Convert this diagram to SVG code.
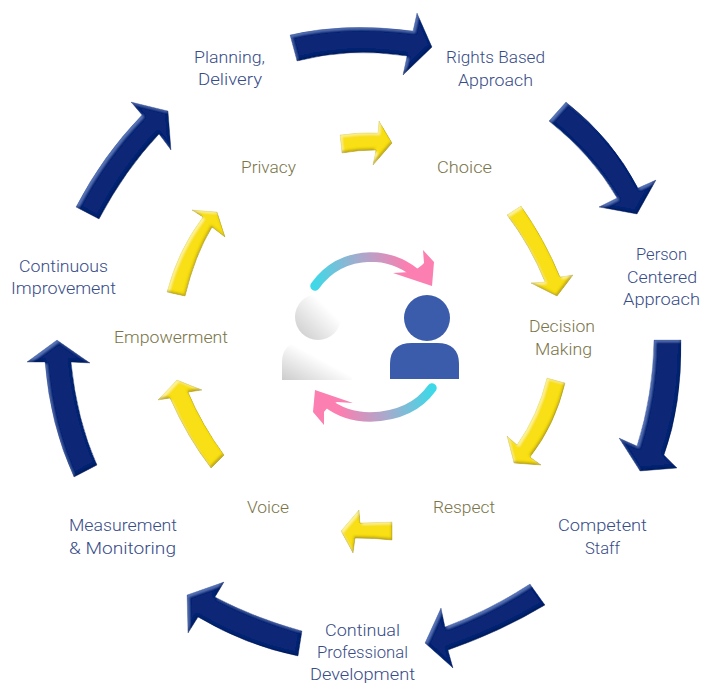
<svg xmlns="http://www.w3.org/2000/svg" width="702" height="684" viewBox="0 0 702 684">
<style>
text{font-family:Roboto,"Open Sans","Liberation Sans",sans-serif;font-size:17px;font-weight:300;text-anchor:middle}
.outer text{fill:#384c88}
.inner text{fill:#7a7448}
.navy{fill:#0f2874;stroke:#0c2060;stroke-width:.6;filter:url(#bevelN)}
.gold{fill:#f8df18;stroke:#a8981a;stroke-width:.7;filter:url(#bevelG)}
.soft{filter:url(#soft)}
</style>
<defs>
<linearGradient id="arcTop" gradientUnits="userSpaceOnUse" x1="314" y1="287" x2="425" y2="270"><stop offset="0" stop-color="#3dd9e8"/><stop offset=".45" stop-color="#a9a9cc"/><stop offset=".85" stop-color="#fb7fb0"/></linearGradient>
<linearGradient id="arcBot" gradientUnits="userSpaceOnUse" x1="432" y1="388" x2="322" y2="405"><stop offset="0" stop-color="#3dd9e8"/><stop offset=".45" stop-color="#a9a9cc"/><stop offset=".85" stop-color="#fb7fb0"/></linearGradient>
<linearGradient id="headW" x1="1" y1="0" x2="0" y2="1"><stop offset=".3" stop-color="#ffffff"/><stop offset="1" stop-color="#c8c8c8"/></linearGradient>
<linearGradient id="bodyW" x1="1" y1="0" x2="0" y2="1"><stop offset=".45" stop-color="#ffffff"/><stop offset="1" stop-color="#cccccc"/></linearGradient>
<filter id="bevelN" x="-10%" y="-10%" width="120%" height="120%">
<feOffset in="SourceAlpha" dx="1.5" dy="2" result="o1"/>
<feComposite in="SourceAlpha" in2="o1" operator="out" result="r1"/>
<feGaussianBlur in="r1" stdDeviation=".8" result="r1b"/>
<feFlood flood-color="#5f7ec4"/><feComposite in2="r1b" operator="in" result="hl"/>
<feOffset in="SourceAlpha" dx="-1.5" dy="-2" result="o2"/>
<feComposite in="SourceAlpha" in2="o2" operator="out" result="r2"/>
<feGaussianBlur in="r2" stdDeviation=".8" result="r2b"/>
<feFlood flood-color="#071a55"/><feComposite in2="r2b" operator="in" result="sh"/>
<feMerge result="m"><feMergeNode in="SourceGraphic"/><feMergeNode in="hl"/><feMergeNode in="sh"/></feMerge>
<feComposite in="m" in2="SourceAlpha" operator="in"/>
<feGaussianBlur stdDeviation=".35"/>
</filter>
<filter id="bevelG" x="-10%" y="-10%" width="120%" height="120%">
<feOffset in="SourceAlpha" dx="1.5" dy="2" result="o1"/>
<feComposite in="SourceAlpha" in2="o1" operator="out" result="r1"/>
<feGaussianBlur in="r1" stdDeviation=".8" result="r1b"/>
<feFlood flood-color="#fff7a0"/><feComposite in2="r1b" operator="in" result="hl"/>
<feOffset in="SourceAlpha" dx="-1.5" dy="-2" result="o2"/>
<feComposite in="SourceAlpha" in2="o2" operator="out" result="r2"/>
<feGaussianBlur in="r2" stdDeviation=".8" result="r2b"/>
<feFlood flood-color="#a8921a"/><feComposite in2="r2b" operator="in" result="sh"/>
<feMerge result="m"><feMergeNode in="SourceGraphic"/><feMergeNode in="hl"/><feMergeNode in="sh"/></feMerge>
<feComposite in="m" in2="SourceAlpha" operator="in"/>
<feGaussianBlur stdDeviation=".35"/>
</filter>
<filter id="soft" x="-5%" y="-5%" width="110%" height="110%"><feGaussianBlur stdDeviation=".4"/></filter>
</defs>

<g id="connectors">
<path class="navy" d="M290,35 Q345,22 413,31 L417,13 L432,47 L403,75 L407,56 Q350,47 297,61 Z"/>
<path class="navy" d="M566,102 Q612,138 638,188 L656,180 L637,214 L599,207 L617,198 Q592,155 549,121 Z"/>
<path class="navy" d="M654,340 L681,340 Q682,405 664,455 L677,468 L640,471 L619,438 L637,446 Q653,395 654,340 Z"/>
<path class="navy" d="M530,584 Q490,610 445,627 L441,608 L425,643 L453,668 L448,650 Q500,632 545,605 Z"/>
<path class="navy" d="M302,631 Q255,618 215,597 L224,582 L187,595 L188,633 L198,617 Q245,645 298,656 Z"/>
<path class="navy" d="M74,477 Q50,425 45,362 L27,362 L57,340 L90,363 L71,362 Q77,420 97,465 Z"/>
<path class="navy" d="M76,207 Q103,155 142,115 L131,102 L168,111 L171,150 L159,134 Q125,170 99,219 Z"/>
<path class="gold" d="M340,135 Q360,132 378,133 L379,121 L392,143 L373,165 L376,150 Q358,150 342,153 Z"/>
<path class="gold" d="M521,206 Q545,240 560,277 L573,275 L557,296 L531,283 L545,282 Q530,245 507,215 Z"/>
<path class="gold" d="M547,378 Q538,415 517,445 L507,436 L514,463 L541,465 L530,457 Q555,425 565,383 Z"/>
<path class="gold" d="M392,522 L360,523 L359,510 L341,531 L353,553 L355,538 Q375,538 392,540 Z"/>
<path class="gold" d="M224,455 Q202,425 188,392 L202,390 L177,380 L158,400 L170,398 Q187,437 211,468 Z"/>
<path class="gold" d="M167,292 Q178,250 203,217 L192,210 L217,212 L225,237 L212,227 Q195,255 185,296 Z"/>
</g>

<g id="center-icon" class="soft">
<g id="person-white"><circle cx="318" cy="317" r="23" fill="url(#headW)"/><path d="M282,380 V362 Q282,342 304,342 H332 Q352,342 352,362 V380 Z" fill="url(#bodyW)"/></g>
<g id="person-blue"><circle cx="427" cy="318" r="23" fill="#3b5cab"/><path d="M390,379 V364 Q390,343 412,343 H437 Q459,343 459,364 V379 Z" fill="#3b5cab"/></g>
<g id="cycle-top"><path d="M315,286 Q335,258 370,257 Q395,257 414,272" fill="none" stroke="url(#arcTop)" stroke-width="9.5" stroke-linecap="round"/><path d="M423,250 L434,262 L432,286 L393,273 L410,272 Q420,268 424,263 Z" fill="#fb7fb0"/></g>
<g id="cycle-bottom"><path d="M432,388 Q412,416 370,417 Q345,417 326,402" fill="none" stroke="url(#arcBot)" stroke-width="9.5" stroke-linecap="round"/><path d="M315,390 L353,403 L337,402 Q328,406 324,412 L324,425 L313,412 Z" fill="#fb7fb0"/></g>
</g>

<g class="outer">
<g id="n-planning"><text x="229.500" y="63" textLength="71" lengthAdjust="spacingAndGlyphs">Planning,</text><text x="230" y="85" textLength="64" lengthAdjust="spacingAndGlyphs">Delivery</text></g>
<g id="n-rights"><text x="495.500" y="63" textLength="99" lengthAdjust="spacingAndGlyphs">Rights Based</text><text x="495.500" y="86" textLength="75" lengthAdjust="spacingAndGlyphs">Approach</text></g>
<g id="n-person"><text x="661.500" y="260" textLength="51" lengthAdjust="spacingAndGlyphs">Person</text><text x="662" y="283" textLength="70" lengthAdjust="spacingAndGlyphs">Centered</text><text x="661.500" y="305" textLength="77" lengthAdjust="spacingAndGlyphs">Approach</text></g>
<g id="n-staff"><text x="602.500" y="531" textLength="89" lengthAdjust="spacingAndGlyphs">Competent</text><text x="602.500" y="554" textLength="35" lengthAdjust="spacingAndGlyphs">Staff</text></g>
<g id="n-cpd"><text x="362.500" y="636" textLength="75" lengthAdjust="spacingAndGlyphs">Continual</text><text x="362.500" y="658" textLength="91" lengthAdjust="spacingAndGlyphs">Professional</text><text x="362.500" y="679.500" textLength="105" lengthAdjust="spacingAndGlyphs">Development</text></g>
<g id="n-measure"><text x="123" y="531" textLength="108" lengthAdjust="spacingAndGlyphs">Measurement</text><text x="122.500" y="554" textLength="107" lengthAdjust="spacingAndGlyphs">&amp; Monitoring</text></g>
<g id="n-improve"><text x="63.500" y="271.500" textLength="89" lengthAdjust="spacingAndGlyphs">Continuous</text><text x="63.500" y="294" textLength="105" lengthAdjust="spacingAndGlyphs">Improvement</text></g>
</g>
<g class="inner">
<g id="n-privacy"><text x="268.500" y="173" textLength="55" lengthAdjust="spacingAndGlyphs">Privacy</text></g>
<g id="n-choice"><text x="464.500" y="173" textLength="55" lengthAdjust="spacingAndGlyphs">Choice</text></g>
<g id="n-decision"><text x="562" y="332" textLength="66" lengthAdjust="spacingAndGlyphs">Decision</text><text x="563.500" y="355" textLength="57" lengthAdjust="spacingAndGlyphs">Making</text></g>
<g id="n-respect"><text x="464" y="513" textLength="62" lengthAdjust="spacingAndGlyphs">Respect</text></g>
<g id="n-voice"><text x="268" y="513" textLength="42" lengthAdjust="spacingAndGlyphs">Voice</text></g>
<g id="n-empower"><text x="171" y="343" textLength="114" lengthAdjust="spacingAndGlyphs">Empowerment</text></g>
</g>
</svg>
